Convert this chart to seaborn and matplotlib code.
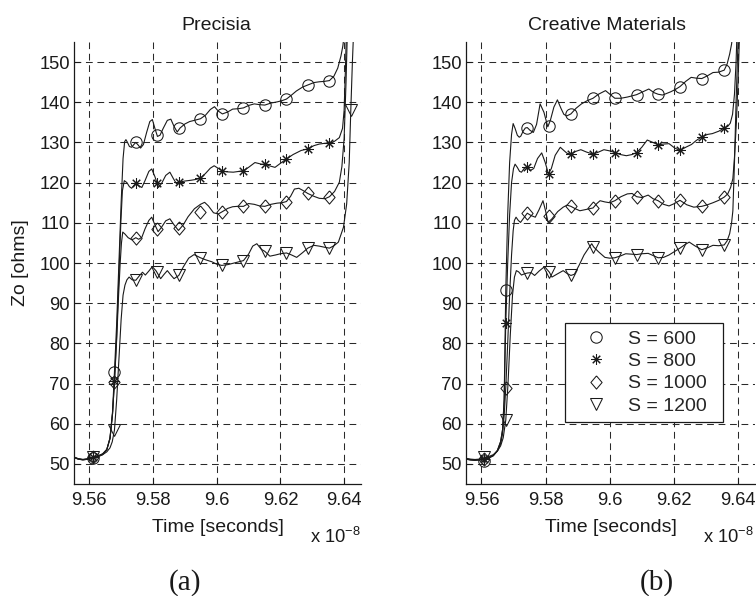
import numpy as np
import matplotlib
matplotlib.use("Agg")
import matplotlib.pyplot as plt
from matplotlib.lines import Line2D
from matplotlib.ticker import FuncFormatter, FixedLocator
import seaborn as sns

# ---------------- data (time in units of 1e-8 s, Zo in ohms) ----------------
series_labels = ["S = 600", "S = 800", "S = 1000", "S = 1200"]
panel_titles = ["Precisia", "Creative Materials"]
panel_tags = ["(a)", "(b)"]
x_ticks = [9.56, 9.58, 9.60, 9.62, 9.64]
y_ticks = [50, 60, 70, 80, 90, 100, 110, 120, 130, 140, 150]

# ---- panel (a) Precisia ----
a_mark_t = [9.5611, 9.5679, 9.5746, 9.5814, 9.5881, 9.5949, 9.6016, 9.6084,
            9.6151, 9.6219, 9.6286, 9.6354, 9.6421]
a600_mark = [51.4, 72.8, 130.0, 131.9, 133.6, 135.9, 137.1, 138.6, 139.3, 140.8, 144.3, 145.4]
a800_mark = [51.6, 70.6, 119.8, 119.8, 120.1, 121.1, 123.0, 123.0, 124.6, 125.9, 128.4, 129.8]
a1000_mark = [51.6, 70.4, 106.3, 108.5, 108.6, 112.8, 112.7, 114.1, 114.1, 115.3, 117.3, 116.5]
a1200_mark = [51.8, 58.4, 95.7, 97.7, 96.9, 101.3, 99.4, 100.6, 102.9, 102.5, 103.7, 103.7, 138.1]

a600_t = [9.5552, 9.5565, 9.5580, 9.5598, 9.5611, 9.5628, 9.5642, 9.5655, 9.5665, 9.5673,
          9.5679, 9.5686, 9.5693, 9.5700, 9.5706, 9.5711, 9.5715, 9.5720, 9.5726, 9.5733,
          9.5740, 9.5746, 9.5753, 9.5761, 9.5770, 9.5780, 9.5790, 9.5798, 9.5806, 9.5814,
          9.5822, 9.5832, 9.5845, 9.5856, 9.5866, 9.5876, 9.5885, 9.5900, 9.5915, 9.5930,
          9.5949, 9.5965, 9.5980, 9.5993, 9.6005, 9.6018, 9.6035, 9.6050, 9.6068, 9.6084,
          9.6100, 9.6118, 9.6135, 9.6151, 9.6170, 9.6190, 9.6205, 9.6219, 9.6235, 9.6250,
          9.6270, 9.6286, 9.6305, 9.6322, 9.6338, 9.6354, 9.6368, 9.6380, 9.6390, 9.6396,
          9.6402]
a600_z = [51.7, 51.3, 51.1, 51.3, 51.5, 51.8, 52.3, 53.5, 56.5, 63.0,
          72.8, 85.0, 100.0, 115.0, 126.0, 130.2, 130.7, 130.0, 129.0, 128.8,
          129.5, 130.0, 129.4, 128.6, 129.5, 132.5, 135.2, 135.7, 133.5, 131.5,
          131.8, 133.5, 135.5, 135.8, 134.0, 132.6, 133.6, 134.6, 135.2, 135.5,
          135.9, 136.8, 138.2, 138.9, 137.8, 137.1, 137.6, 138.3, 138.4, 138.6,
          139.2, 139.6, 139.4, 139.3, 139.8, 140.1, 140.4, 140.8, 141.8, 142.8,
          143.8, 144.3, 144.9, 145.1, 145.2, 145.4, 146.5, 148.5, 151.5, 154.0,
          158.0]

a800_t = [9.5552, 9.5565, 9.5580, 9.5598, 9.5611, 9.5628, 9.5642, 9.5655, 9.5665, 9.5673,
          9.5679, 9.5686, 9.5693, 9.5699, 9.5704, 9.5710, 9.5718, 9.5726, 9.5733, 9.5740,
          9.5746, 9.5755, 9.5765, 9.5775, 9.5787, 9.5796, 9.5806, 9.5817, 9.5827, 9.5840,
          9.5853, 9.5864, 9.5874, 9.5881, 9.5900, 9.5920, 9.5935, 9.5949, 9.5965, 9.5980,
          9.5992, 9.6002, 9.6016, 9.6030, 9.6052, 9.6070, 9.6084, 9.6100, 9.6120, 9.6140,
          9.6151, 9.6165, 9.6183, 9.6200, 9.6219, 9.6240, 9.6265, 9.6286, 9.6305, 9.6322,
          9.6340, 9.6354, 9.6370, 9.6385, 9.6395, 9.6400, 9.6404, 9.6408]
a800_z = [51.6, 51.2, 51.0, 51.2, 51.6, 52.0, 52.5, 53.6, 56.3, 62.5,
          70.6, 82.0, 97.0, 110.0, 118.0, 120.5, 120.0, 119.0, 118.6, 119.3,
          119.8, 119.2, 118.8, 120.5, 122.8, 123.4, 121.5, 118.8, 119.8, 121.8,
          122.6, 121.0, 119.7, 120.1, 120.4, 120.6, 120.8, 121.1, 122.3, 123.6,
          124.2, 123.7, 123.0, 122.7, 122.6, 122.8, 123.0, 123.8, 125.0, 124.6,
          124.6, 124.2, 123.8, 124.8, 125.9, 127.0, 128.0, 128.4, 129.2, 129.6,
          129.8, 129.8, 130.3, 131.2, 133.5, 138.0, 148.0, 160.0]

a1000_t = [9.5552, 9.5565, 9.5580, 9.5598, 9.5611, 9.5628, 9.5642, 9.5655, 9.5665, 9.5673,
           9.5679, 9.5686, 9.5692, 9.5697, 9.5701, 9.5705, 9.5712, 9.5722, 9.5733, 9.5740,
           9.5746, 9.5755, 9.5765, 9.5775, 9.5787, 9.5796, 9.5806, 9.5816, 9.5826, 9.5840,
           9.5853, 9.5866, 9.5880, 9.5895, 9.5910, 9.5930, 9.5949, 9.5962, 9.5974, 9.5990,
           9.6005, 9.6016, 9.6035, 9.6050, 9.6065, 9.6084, 9.6100, 9.6118, 9.6135, 9.6151,
           9.6170, 9.6190, 9.6205, 9.6219, 9.6232, 9.6244, 9.6258, 9.6272, 9.6286, 9.6305,
           9.6322, 9.6340, 9.6354, 9.6370, 9.6385, 9.6393, 9.6400, 9.6406, 9.6411]
a1000_z = [51.6, 51.2, 51.0, 51.2, 51.6, 52.0, 52.5, 53.6, 56.3, 62.5,
           70.4, 81.0, 92.0, 100.0, 105.0, 107.7, 107.2, 106.3, 105.8, 106.0,
           106.3, 105.9, 106.4, 108.5, 110.6, 111.4, 109.5, 107.8, 108.8, 110.5,
           111.0, 109.5, 108.1, 109.5, 111.5, 113.5, 114.6, 115.1, 114.2, 112.5,
           112.2, 112.7, 113.6, 114.0, 114.1, 114.1, 114.8, 114.6, 114.2, 114.1,
           114.6, 114.9, 115.0, 115.3, 116.6, 118.4, 118.6, 118.0, 117.3, 116.6,
           116.1, 116.0, 116.5, 117.8, 120.1, 124.0, 131.0, 145.0, 160.0]

a1200_t = [9.5552, 9.5565, 9.5580, 9.5598, 9.5611, 9.5628, 9.5642, 9.5655, 9.5665, 9.5672,
           9.5679, 9.5686, 9.5693, 9.5700, 9.5706, 9.5712, 9.5718, 9.5725, 9.5735, 9.5746,
           9.5757, 9.5767, 9.5776, 9.5787, 9.5798, 9.5810, 9.5824, 9.5835, 9.5845, 9.5856,
           9.5866, 9.5881, 9.5895, 9.5912, 9.5929, 9.5949, 9.5965, 9.5985, 9.6000, 9.6016,
           9.6035, 9.6055, 9.6084, 9.6100, 9.6113, 9.6126, 9.6140, 9.6151, 9.6167, 9.6185,
           9.6200, 9.6219, 9.6235, 9.6251, 9.6270, 9.6286, 9.6305, 9.6322, 9.6340, 9.6354,
           9.6368, 9.6382, 9.6398, 9.6408, 9.6416, 9.6421, 9.6426, 9.6431]
a1200_z = [51.7, 51.3, 51.1, 51.3, 51.6, 51.9, 52.3, 53.0, 54.0, 55.5,
           58.4, 66.0, 76.0, 86.0, 92.0, 94.5, 95.8, 96.5, 95.8, 95.7,
           96.8, 97.7, 97.0, 98.0, 99.1, 98.0, 96.1, 97.2, 98.1, 97.0,
           96.1, 96.9, 99.0, 101.2, 102.1, 101.3, 100.8, 100.3, 99.7, 99.4,
           99.6, 100.0, 100.6, 102.2, 104.2, 104.8, 103.4, 102.9, 101.7, 102.0,
           102.3, 102.5, 102.0, 101.4, 102.6, 103.7, 104.4, 104.2, 103.9, 103.7,
           104.3, 105.2, 108.9, 114.7, 125.0, 138.1, 150.0, 160.0]

# ---- panel (b) Creative Materials ----
b_mark_t = [9.5608, 9.5676, 9.5743, 9.5812, 9.5879, 9.5948, 9.6016, 9.6084,
            9.6151, 9.6219, 9.6287, 9.6357]
b600_mark = [50.6, 93.2, 133.7, 134.2, 137.1, 141.0, 141.0, 141.9, 142.0, 143.9, 145.9, 148.0]
b800_mark = [51.2, 85.0, 124.0, 122.2, 127.1, 127.1, 127.5, 127.5, 129.4, 128.0, 131.4, 133.6]
b1000_mark = [51.3, 69.0, 112.4, 111.8, 114.1, 113.7, 115.5, 116.5, 115.5, 115.6, 114.1, 116.4]
b1200_mark = [51.6, 60.9, 97.5, 97.7, 96.9, 103.9, 101.3, 102.1, 101.3, 103.7, 103.3, 104.5]

b600_t = [9.5552, 9.5565, 9.5580, 9.5595, 9.5608, 9.5622, 9.5637, 9.5650, 9.5660, 9.5666,
          9.5671, 9.5676, 9.5682, 9.5688, 9.5694, 9.5699, 9.5705, 9.5712, 9.5718, 9.5723,
          9.5730, 9.5737, 9.5743, 9.5752, 9.5762, 9.5772, 9.5783, 9.5795, 9.5807, 9.5815,
          9.5826, 9.5837, 9.5848, 9.5857, 9.5866, 9.5879, 9.5895, 9.5912, 9.5930, 9.5948,
          9.5965, 9.5987, 9.6002, 9.6016, 9.6035, 9.6055, 9.6070, 9.6084, 9.6103, 9.6122,
          9.6138, 9.6151, 9.6165, 9.6190, 9.6205, 9.6219, 9.6237, 9.6254, 9.6270, 9.6287,
          9.6305, 9.6322, 9.6340, 9.6357, 9.6366, 9.6374, 9.6380, 9.6385]
b600_z = [51.2, 51.0, 50.9, 51.0, 51.1, 51.4, 52.0, 53.3, 55.5, 58.5,
          66.0, 93.2, 112.0, 125.0, 132.0, 134.7, 133.5, 131.8, 131.3, 131.6,
          132.8, 133.6, 133.7, 133.0, 132.5, 134.5, 139.6, 137.5, 133.9, 135.5,
          138.8, 140.6, 138.5, 137.0, 136.6, 137.1, 138.5, 139.6, 140.4, 141.0,
          142.0, 142.9, 141.9, 141.0, 141.0, 141.3, 141.6, 141.9, 142.6, 143.3,
          142.4, 142.0, 141.8, 142.6, 143.2, 143.9, 145.2, 146.2, 146.0, 145.9,
          146.6, 147.4, 147.5, 148.0, 149.5, 152.0, 154.5, 158.0]

b800_t = [9.5552, 9.5565, 9.5580, 9.5595, 9.5608, 9.5622, 9.5637, 9.5650, 9.5660, 9.5666,
          9.5671, 9.5676, 9.5682, 9.5688, 9.5694, 9.5700, 9.5705, 9.5712, 9.5719, 9.5725,
          9.5733, 9.5743, 9.5752, 9.5763, 9.5775, 9.5788, 9.5799, 9.5809, 9.5818, 9.5830,
          9.5846, 9.5857, 9.5867, 9.5879, 9.5895, 9.5910, 9.5928, 9.5948, 9.5965, 9.5982,
          9.6000, 9.6016, 9.6033, 9.6052, 9.6070, 9.6084, 9.6100, 9.6117, 9.6135, 9.6151,
          9.6168, 9.6185, 9.6203, 9.6219, 9.6237, 9.6255, 9.6270, 9.6287, 9.6305, 9.6320,
          9.6340, 9.6357, 9.6368, 9.6376, 9.6383, 9.6389, 9.6394, 9.6398]
b800_z = [51.2, 51.0, 50.9, 51.0, 51.2, 51.5, 52.1, 53.4, 55.6, 58.5,
          66.0, 85.0, 100.0, 112.0, 120.0, 123.5, 124.6, 123.8, 122.8, 122.6,
          123.5, 124.0, 123.0, 123.5, 126.0, 127.4, 125.0, 122.2, 123.5, 126.8,
          128.8, 128.0, 127.3, 127.1, 127.8, 128.2, 127.6, 127.1, 127.6, 128.2,
          127.9, 127.5, 127.0, 126.7, 127.0, 127.5, 128.8, 130.6, 130.0, 129.4,
          129.6, 129.7, 128.6, 128.0, 128.8, 129.5, 130.5, 131.4, 132.0, 132.2,
          132.8, 133.6, 134.0, 134.8, 137.0, 142.0, 150.0, 160.0]

b1000_t = [9.5552, 9.5565, 9.5580, 9.5595, 9.5608, 9.5622, 9.5637, 9.5650, 9.5660, 9.5666,
           9.5671, 9.5676, 9.5682, 9.5688, 9.5694, 9.5699, 9.5703, 9.5708, 9.5715, 9.5722,
           9.5732, 9.5743, 9.5755, 9.5768, 9.5780, 9.5792, 9.5800, 9.5808, 9.5820, 9.5838,
           9.5855, 9.5867, 9.5879, 9.5893, 9.5907, 9.5925, 9.5948, 9.5960, 9.5970, 9.5985,
           9.6000, 9.6016, 9.6035, 9.6055, 9.6070, 9.6084, 9.6100, 9.6120, 9.6135, 9.6151,
           9.6168, 9.6185, 9.6202, 9.6219, 9.6240, 9.6262, 9.6287, 9.6305, 9.6322, 9.6340,
           9.6357, 9.6368, 9.6377, 9.6384, 9.6389, 9.6395, 9.6400, 9.6404, 9.6407]
b1000_z = [51.3, 51.1, 51.0, 51.1, 51.3, 51.5, 52.1, 53.2, 55.0, 57.5,
           62.0, 69.0, 80.0, 92.0, 102.0, 108.0, 110.6, 111.4, 110.6, 110.1,
           111.2, 112.4, 111.8, 111.4, 113.3, 115.5, 113.0, 110.1, 111.0, 112.8,
           113.9, 114.4, 114.1, 113.5, 113.0, 113.3, 113.7, 114.8, 115.5, 115.2,
           115.0, 115.5, 116.5, 117.2, 117.3, 116.5, 116.3, 116.9, 116.0, 115.5,
           114.6, 114.2, 114.8, 115.6, 114.5, 113.9, 114.1, 114.5, 115.0, 115.6,
           116.4, 117.2, 118.8, 121.0, 126.3, 135.0, 145.0, 155.0, 160.0]

b1200_t = [9.5552, 9.5565, 9.5580, 9.5595, 9.5608, 9.5622, 9.5637, 9.5650, 9.5660, 9.5668,
           9.5676, 9.5683, 9.5690, 9.5697, 9.5703, 9.5709, 9.5716, 9.5725, 9.5734, 9.5743,
           9.5755, 9.5766, 9.5780, 9.5797, 9.5812, 9.5820, 9.5835, 9.5855, 9.5867, 9.5879,
           9.5890, 9.5905, 9.5920, 9.5935, 9.5944, 9.5950, 9.5965, 9.5985, 9.6000, 9.6016,
           9.6035, 9.6050, 9.6068, 9.6084, 9.6100, 9.6120, 9.6137, 9.6151, 9.6168, 9.6185,
           9.6205, 9.6219, 9.6235, 9.6248, 9.6265, 9.6287, 9.6305, 9.6322, 9.6340, 9.6357,
           9.6366, 9.6374, 9.6380, 9.6384, 9.6389, 9.6394, 9.6398, 9.6402]
b1200_z = [51.4, 51.2, 51.1, 51.2, 51.5, 51.8, 52.3, 53.2, 54.5, 56.5,
           60.9, 70.0, 82.0, 92.0, 96.5, 98.1, 97.8, 97.0, 97.3, 97.5,
           97.6, 96.9, 98.0, 99.1, 97.7, 96.5, 97.2, 98.1, 97.4, 96.9,
           97.2, 99.5, 102.0, 103.8, 104.8, 104.0, 102.8, 101.4, 101.2, 101.3,
           101.8, 102.3, 102.2, 102.1, 102.3, 102.4, 101.8, 101.3, 101.4, 102.0,
           103.0, 103.7, 104.6, 105.2, 104.3, 103.3, 103.8, 104.4, 104.3, 104.5,
           105.5, 107.3, 110.0, 113.0, 125.0, 140.0, 150.0, 160.0]

# ---------------- style ----------------
sns.set_theme(style="white")
plt.rcParams["font.family"] = ["Liberation Sans", "DejaVu Sans"]
plt.rcParams["mathtext.fontset"] = "custom"
plt.rcParams["mathtext.rm"] = "Liberation Sans"
plt.rcParams["xtick.direction"] = "in"
plt.rcParams["ytick.direction"] = "in"

FS = 14        # titles, labels, legend
TFS = 13.2     # tick labels
diamond = [(0, 1), (0.85, 0), (0, -1), (-0.85, 0), (0, 1)]
markers = ["o", (8, 2, 0), diamond, "v"]
msizes = [8.2, 7.5, 9.5, 8]

panels = [
    dict(lines=[(a600_t, a600_z), (a800_t, a800_z), (a1000_t, a1000_z), (a1200_t, a1200_z)],
         mt=a_mark_t, marks=[a600_mark, a800_mark, a1000_mark, a1200_mark]),
    dict(lines=[(b600_t, b600_z), (b800_t, b800_z), (b1000_t, b1000_z), (b1200_t, b1200_z)],
         mt=b_mark_t, marks=[b600_mark, b800_mark, b1000_mark, b1200_mark]),
]

W, H = 756, 596
fig = plt.figure(figsize=(W / 100, H / 100), dpi=100)
ax_boxes = [(74, 42, 361, 484), (466, 42, 755, 484)]  # left, top, right, bottom (px)
title_x = [0.495, 0.487]
axes = []
for (l, t, r, b) in ax_boxes:
    axes.append(fig.add_axes([l / W, 1 - b / H, (r - l) / W, (b - t) / H]))

grid_kw = dict(color="#2a2a2a", linewidth=0.75, linestyle=(0, (6.5, 4.5)))

for i, (ax, p) in enumerate(zip(axes, panels)):
    for (t, z) in p["lines"]:
        sns.lineplot(x=np.array(t), y=np.array(z), ax=ax, color="k", linewidth=0.8,
                     sort=False, estimator=None, zorder=3)
    for k, zm in enumerate(p["marks"]):
        tm = np.array(p["mt"][:len(zm)])
        sns.lineplot(x=tm, y=np.array(zm), ax=ax, color="k", linestyle="none",
                     marker=markers[k], markersize=msizes[k], markerfacecolor="none",
                     markeredgecolor="k", markeredgewidth=0.75, sort=False,
                     estimator=None, zorder=4)
    ax.set_xlim(9.5552, 9.6453)
    ax.set_ylim(45, 155)
    ax.xaxis.set_major_locator(FixedLocator(x_ticks))
    ax.yaxis.set_major_locator(FixedLocator(y_ticks))
    ax.xaxis.set_major_formatter(FuncFormatter(lambda v, pos: "%g" % round(v, 2)))
    ax.yaxis.set_major_formatter(FuncFormatter(lambda v, pos: "%d" % v))
    ax.grid(True, **grid_kw)
    ax.set_axisbelow(True)
    for s in ["top", "right"]:
        ax.spines[s].set_visible(False)
    for s in ["left", "bottom"]:
        ax.spines[s].set_color("k")
        ax.spines[s].set_linewidth(0.9)
    ax.tick_params(axis="both", which="major", direction="in", length=4, width=0.8,
                   color="k", labelsize=TFS, labelcolor="k",
                   top=False, right=False, left=True, bottom=True)
    ax.tick_params(axis="x", pad=6)
    ax.tick_params(axis="y", pad=3)
    ax.set_title(panel_titles[i], fontsize=FS, color="k", pad=9, x=title_x[i])
    ax.set_xlabel("Time [seconds]", fontsize=FS, color="k", labelpad=7)
    ax.set_ylabel("Zo [ohms]" if i == 0 else "", fontsize=FS, color="k", labelpad=7)
    ax.set_facecolor("white")

# exponent labels
fig.text(310 / W, 1 - 537 / H, r"x 10$^{\mathregular{-8}}$", fontsize=TFS,
         ha="left", va="center", color="k")
fig.text(703 / W, 1 - 537 / H, r"x 10$^{\mathregular{-8}}$", fontsize=TFS,
         ha="left", va="center", color="k")

# panel tags
fig.text(185 / W, 1 - 583 / H, panel_tags[0], fontsize=21, ha="center", va="center",
         family=["Liberation Serif", "DejaVu Serif"], color="k")
fig.text(657 / W, 1 - 583 / H, panel_tags[1], fontsize=21, ha="center", va="center",
         family=["Liberation Serif", "DejaVu Serif"], color="k")

# legend in panel (b)
handles = [Line2D([], [], linestyle="none", marker=markers[k], markersize=msizes[k],
                  markerfacecolor="none", markeredgecolor="k", markeredgewidth=0.75)
           for k in range(4)]
leg = axes[1].legend(handles, series_labels, loc="upper left",
                     bbox_to_anchor=(0.3415, 0.1425, 0.5475, 0.2211), mode="expand",
                     borderaxespad=0, fontsize=FS, frameon=True, fancybox=False,
                     handlelength=2.5, handletextpad=0.4, borderpad=0.36,
                     labelspacing=0.24)
leg.get_frame().set_edgecolor("k")
leg.get_frame().set_linewidth(0.9)
leg.get_frame().set_facecolor("white")
leg.get_frame().set_alpha(1)
leg.set_zorder(10)

fig.savefig("out.png", dpi=100, facecolor="white")
